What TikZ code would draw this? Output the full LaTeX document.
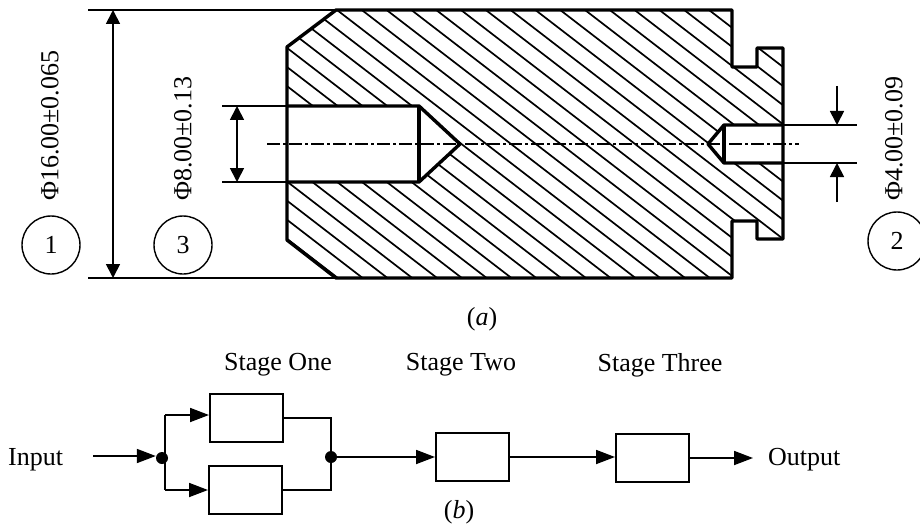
\documentclass[tikz,border=0pt]{standalone}
\usepackage{fontspec}
\setmainfont{Liberation Serif}
\usetikzlibrary{arrows.meta}

\begin{document}
\begin{tikzpicture}[x=1pt, y=-1pt,
    thin line/.style={line width=1.7pt},
    outline/.style={line width=3.4pt, line join=round},
    dim arrow/.style={thin line, {Triangle[length=14pt, width=14pt]}-{Triangle[length=14pt, width=14pt]}},
    one tip/.style={thin line, -{Triangle[length=14pt, width=14pt]}},
    flow/.style={line width=1.8pt, -{Triangle[length=19pt, width=14pt]}},
    wire/.style={line width=1.8pt},
    stage box/.style={draw, line width=2pt, minimum width=73pt, minimum height=48pt, inner sep=0pt},
    tag/.style={draw, circle, line width=1.4pt, minimum size=58pt, inner sep=0pt},
    label text/.style={font=\fontsize{26}{26}\selectfont, inner sep=0pt},
    junction/.style={fill, circle, minimum size=12pt, inner sep=0pt}]
  \useasboundingbox (0,0) rectangle (920,524);

  % hatching of the section
  \begin{scope}
    \clip (336,10) -- (287,47) -- (287,240) -- (336,278) -- (732,278) -- (732,221)
      -- (757,221) -- (757,239) -- (783,239) -- (783,48) -- (757,48) -- (757,67)
      -- (732,67) -- (732,10) -- cycle;
    \foreach \k in {-23,...,17}
      \draw [thin line] ({337+24.8*\k},10) -- ({337+24.8*\k+350},{10+350*0.77});
    \fill [white] (287,106) -- (419,106) -- (460,144) -- (419,182) -- (287,182) -- cycle;
    \fill [white] (783,125) -- (724,125) -- (708,144) -- (724,163) -- (783,163) -- cycle;
  \end{scope}

  % outline of the part
  \draw [outline] (336,10) -- (287,47) -- (287,240) -- (336,278) -- (732,278) -- (732,221)
    -- (757,221) -- (757,239) -- (783,239) -- (783,48) -- (757,48) -- (757,67)
    -- (732,67) -- (732,10) -- cycle;
  \draw [outline] (287,106) -- (419,106) -- (460,144) -- (419,182) -- (287,182);
  \draw [outline] (419,106) -- (419,182);
  \draw [outline] (783,125) -- (724,125) -- (708,144) -- (724,163) -- (783,163);
  \draw [outline] (724,125) -- (724,163);

  % centre line
  \draw [line width=1.1pt, dash pattern=on 13pt off 3pt on 3pt off 3pt] (267,144) -- (799,144);

  % dimensions
  \coordinate (top1) at (113,10);
  \coordinate (bot1) at (113,278);
  \coordinate (top3) at (237,106);
  \coordinate (bot3) at (237,182);
  \coordinate (top2) at (837,125);
  \coordinate (bot2) at (837,163);
  \coordinate (far top2) at (837,86);
  \coordinate (far bot2) at (837,202);
  \draw [thin line] (88,10) -- (336,10);
  \draw [thin line] (88,278) -- (336,278);
  \draw [thin line] (222,106) -- (287,106);
  \draw [thin line] (222,182) -- (287,182);
  \draw [thin line] (783,125) -- (857,125);
  \draw [thin line] (783,163) -- (857,163);
  \draw [dim arrow] (top1) -- (bot1);
  \draw [dim arrow] (top3) -- (bot3);
  \draw [one tip] (far top2) -- (top2);
  \draw [one tip] (far bot2) -- (bot2);

  \node [label text, rotate=90, anchor=west] (size1) at (50,201) {Φ16.00±0.065};
  \node [label text, rotate=90, anchor=west] (size3) at (183,201) {Φ8.00±0.13};
  \node [label text, rotate=90, anchor=west] (size2) at (894,201) {Φ4.00±0.09};
  \node [tag, label text] (tag1) at (51,245) {\raisebox{-3pt}{1}};
  \node [tag, label text] (tag3) at (183,245) {\raisebox{-3pt}{3}};
  \node [tag, label text] (tag2) at (897,241) {\raisebox{-3pt}{2}};
  \node [label text] (capa) at (482,319) {(\textit{a})};

  % block diagram
  \node [label text, anchor=west] (input) at (8,460) {Input};
  \node [label text, anchor=west] (output) at (768,460) {Output};
  \node [label text] (one) at (278,365) {Stage One};
  \node [label text] (two) at (461,365) {Stage Two};
  \node [label text] (three) at (660,365) {Stage Three};
  \node [label text] (capb) at (459,512) {(\textit{b})};

  \node [stage box] (upper) at (246.5,418) {};
  \node [stage box] (lower) at (245.5,490) {};
  \node [stage box] (second) at (472.5,457) {};
  \node [stage box] (third) at (652.5,458) {};
  \node [junction] (split) at (162,458) {};
  \node [junction] (merge) at (331,457) {};
  \coordinate (start) at (93,456);
  \coordinate (branch top) at (165,415);
  \coordinate (branch bot) at (165,490);
  \coordinate (end) at (753,458);

  \draw [flow] (start) -- (split.west |- start);
  \draw [wire] (branch top) -- (branch bot);
  \draw [flow] (branch top) -- (upper.west |- branch top);
  \draw [flow] (branch bot) -- (lower.west);
  \draw [wire] (upper.east) -| (merge.north);
  \draw [wire] (lower.east) -| (merge.south);
  \draw [flow] (merge.east) -- (second.west);
  \draw [flow] (second.east) -- (third.west |- second.east);
  \draw [flow] (third.east) -- (end);
\end{tikzpicture}
\end{document}
